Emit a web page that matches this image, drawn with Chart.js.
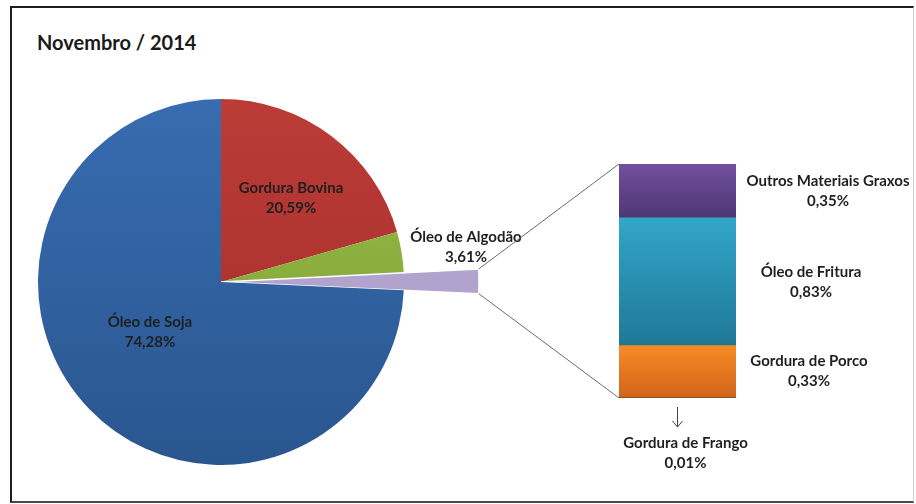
<!DOCTYPE html>
<html>
<head>
<meta charset="utf-8">
<script src="https://cdn.jsdelivr.net/npm/chart.js@4.4.0/dist/chart.umd.min.js"></script>
<style>
  html, body { margin: 0; padding: 0; background: #fff; }
  #wrap { position: relative; width: 916px; height: 504px; overflow: hidden; background: #fff; }
  #frame {
    position: absolute; left: 10px; top: 6px; width: 904px; height: 497px; box-sizing: border-box;
    border-top: 2px solid #1e1e1e; border-left: 2px solid #1e1e1e;
    border-bottom: 2px solid #4a4a4a; border-right: 1px solid #cfcfcf;
  }
  #title { position: absolute; left: 37px; top: 30px; font: bold 20px Lato, sans-serif; color: #1a1a1a; }
  canvas { position: absolute; left: 0; top: 0; }
</style>
</head>
<body>
<div id="wrap">
  <div id="frame"></div>
  <div id="title">Novembro / 2014</div>
  <canvas id="pieChart" width="916" height="504"></canvas>
  <canvas id="barChart" width="916" height="504"></canvas>
</div>
<script>
// PIE (order = clockwise from 12 o'clock)
const pieLabels = ["Gordura Bovina", "Óleo de Algodão", "Outros", "Óleo de Soja"];
const pieValues = [20.59, 3.61, 1.52, 74.28];

// BAR (bottom to top) - breakdown of "Outros"
const barLabels = ["Gordura de Frango", "Gordura de Porco", "Óleo de Fritura", "Outros Materiais Graxos"];
const barValues = [0.01, 0.33, 0.83, 0.35];

const pieColors = [["#bb3b37", "#a32d2a"], ["#96bb47", "#7e9f33"], ["#bbaed6", "#a898c6"], ["#376cb0", "#2a568f"]];
const barColors = [["#b5581a", "#9c4a14"], ["#f68c26", "#d2651a"], ["#32a6c9", "#1f7797"], ["#71509f", "#4e3774"]];

const LABEL_FONT = "bold 15px Lato, sans-serif";
const TEXT_COLOR = "#1f1f1f";

const pct = v => v.toFixed(2).replace(".", ",") + "%";

function twoLines(ctx, x, y, a, b) {
  ctx.fillText(a, x, y - 10);
  ctx.fillText(b, x, y + 10);
}

function pieFill(c) {
  const chart = c.chart;
  const area = chart.chartArea;
  const col = pieColors[c.dataIndex];
  if (!area) return col[0];
  const g = chart.ctx.createLinearGradient(0, area.top, 0, area.bottom);
  g.addColorStop(0, col[0]);
  g.addColorStop(1, col[1]);
  return g;
}

function barFill(c) {
  const chart = c.chart;
  const y = chart.scales && chart.scales.y;
  const col = barColors[c.datasetIndex];
  if (!chart.chartArea || !y) return col[0];
  let lo = 0;
  for (let k = 0; k < c.datasetIndex; k++) lo += barValues[k];
  const hi = lo + barValues[c.datasetIndex];
  const g = chart.ctx.createLinearGradient(0, y.getPixelForValue(hi), 0, y.getPixelForValue(lo));
  g.addColorStop(0, col[0]);
  g.addColorStop(1, col[1]);
  return g;
}

// label offsets from the pie centre
const pieLabelOffsets = [[70, -84], [245, -35], null, [-71, 50]];

const pieExtras = {
  id: "pieExtras",
  afterDatasetsUpdate(chart) {
    // the "Outros" wedge is drawn longer, reaching out to the bar
    chart.getDatasetMeta(0).data[2].outerRadius = 258;
  },
  afterDatasetsDraw(chart) {
    const ctx = chart.ctx;
    const arcs = chart.getDatasetMeta(0).data;
    ctx.save();
    ctx.font = LABEL_FONT;
    ctx.fillStyle = TEXT_COLOR;
    ctx.textAlign = "center";
    ctx.textBaseline = "middle";
    pieLabelOffsets.forEach((o, i) => {
      if (!o) return;
      twoLines(ctx, arcs[i].x + o[0], arcs[i].y + o[1], pieLabels[i], pct(pieValues[i]));
    });
    ctx.restore();
  }
};

const pieChart = new Chart(document.getElementById("pieChart"), {
  type: "pie",
  data: {
    labels: pieLabels,
    datasets: [{
      data: pieValues,
      backgroundColor: pieFill,
      borderColor: "#ffffff",
      borderWidth: [0, 0, 1.5, 0],
      hoverOffset: 0,
      radius: 183,
      clip: false
    }]
  },
  options: {
    responsive: false,
    animation: false,
    events: [],
    layout: { padding: { left: 38, top: 99, right: 512, bottom: 39 } },
    plugins: { legend: { display: false }, tooltip: { enabled: false } }
  },
  plugins: [pieExtras]
});

// label x offsets from the bar's right edge
const barLabelDx = [null, 73, 75, 92];

const barExtras = {
  id: "barExtras",
  afterDatasetsDraw(chart) {
    const ctx = chart.ctx;
    const top = chart.getDatasetMeta(barValues.length - 1).data[0];
    const bottom = chart.getDatasetMeta(0).data[0];
    const left = top.x - top.width / 2;
    const right = top.x + top.width / 2;

    // connector lines from the pie wedge to the bar
    const arc = pieChart.getDatasetMeta(0).data[2];
    ctx.save();
    ctx.strokeStyle = "#6b6b6b";
    ctx.lineWidth = 1;
    ctx.beginPath();
    ctx.moveTo(arc.x + Math.cos(arc.startAngle) * arc.outerRadius, arc.y + Math.sin(arc.startAngle) * arc.outerRadius);
    ctx.lineTo(left, top.y);
    ctx.moveTo(arc.x + Math.cos(arc.endAngle) * arc.outerRadius, arc.y + Math.sin(arc.endAngle) * arc.outerRadius);
    ctx.lineTo(left, bottom.base);
    ctx.stroke();

    ctx.font = LABEL_FONT;
    ctx.fillStyle = TEXT_COLOR;
    ctx.textAlign = "center";
    ctx.textBaseline = "middle";
    for (let i = 1; i < barValues.length; i++) {
      const el = chart.getDatasetMeta(i).data[0];
      twoLines(ctx, right + barLabelDx[i], (el.y + el.base) / 2, barLabels[i], pct(barValues[i]));
    }

    // tiny bottom segment: arrow + label under the bar
    const ax = bottom.x;
    const ay = bottom.base;
    ctx.strokeStyle = "#444";
    ctx.beginPath();
    ctx.moveTo(ax, ay + 9);
    ctx.lineTo(ax, ay + 29);
    ctx.moveTo(ax - 5, ay + 23);
    ctx.lineTo(ax, ay + 29);
    ctx.lineTo(ax + 5, ay + 23);
    ctx.stroke();
    twoLines(ctx, ax + 8, ay + 55, barLabels[0], pct(barValues[0]));
    ctx.restore();
  }
};

new Chart(document.getElementById("barChart"), {
  type: "bar",
  data: {
    labels: [""],
    datasets: barLabels.map((l, i) => ({
      label: l,
      data: [barValues[i]],
      backgroundColor: barFill,
      borderWidth: 0,
      categoryPercentage: 1,
      barPercentage: 1
    }))
  },
  options: {
    responsive: false,
    animation: false,
    events: [],
    layout: { padding: { left: 619, top: 164, right: 180, bottom: 106 } },
    scales: {
      x: { stacked: true, display: false },
      y: { stacked: true, display: false, min: 0, max: pieValues[2] }
    },
    plugins: { legend: { display: false }, tooltip: { enabled: false } }
  },
  plugins: [barExtras]
});
</script>
</body>
</html>
